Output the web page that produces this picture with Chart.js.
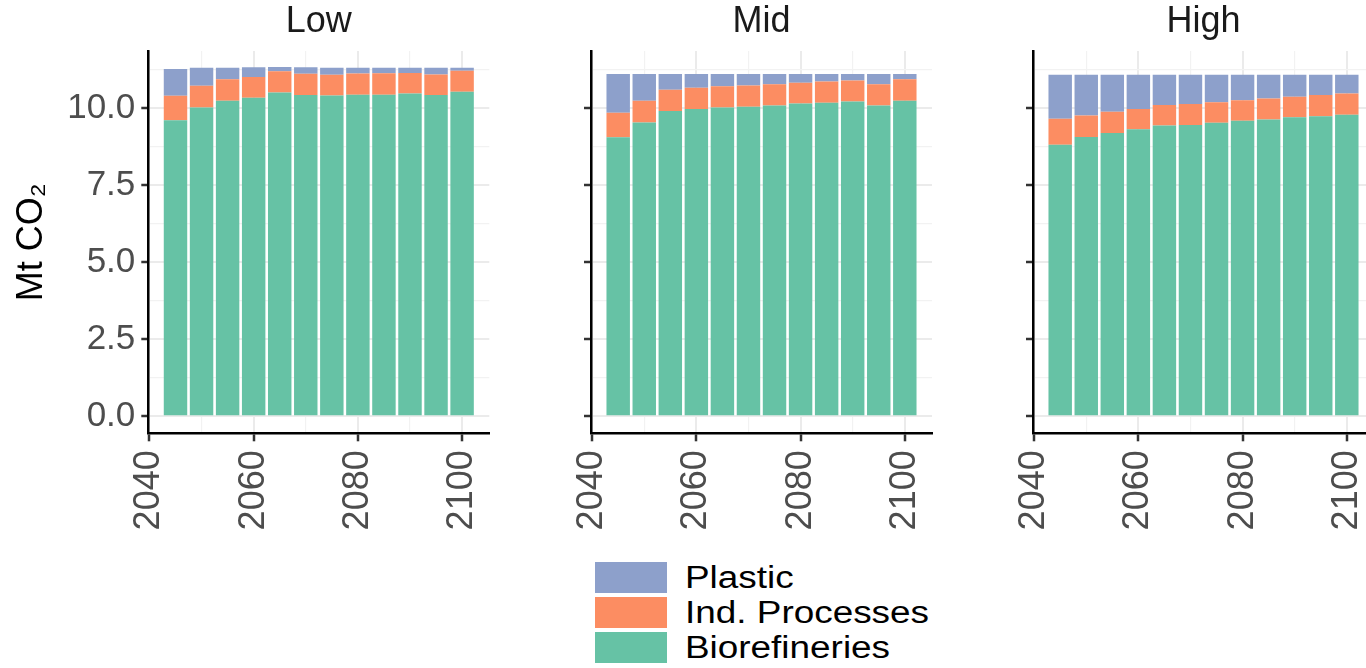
<!DOCTYPE html>
<html>
<head>
<meta charset="utf-8">
<script src="https://cdn.jsdelivr.net/npm/chart.js@4.4.0/dist/chart.umd.min.js"></script>
<style>
html,body{margin:0;padding:0;background:#fff;width:1366px;height:668px;overflow:hidden;position:relative;font-family:"Liberation Sans",Arial,sans-serif;}
.panel{position:absolute;top:0;height:545px;}
.panel canvas{display:block;}
#legend{position:absolute;left:595px;top:562px;}
.row{display:flex;align-items:center;height:31px;margin-bottom:4px;}
.sw{width:72px;height:31px;flex:none;}
.lab{margin-left:18px;font-size:31px;line-height:31px;color:#000;transform:scaleX(1.19);transform-origin:left center;white-space:nowrap;}
</style>
</head>
<body>
<div class="panel" id="p0"><canvas id="c0"></canvas></div>
<div class="panel" id="p1"><canvas id="c1"></canvas></div>
<div class="panel" id="p2"><canvas id="c2"></canvas></div>
<div id="legend"></div>
<script>
// ---- data ----
const years = [2045, 2050, 2055, 2060, 2065, 2070, 2075, 2080, 2085, 2090, 2095, 2100];
const facetNames = ["Low", "Mid", "High"];
const seriesNames = ["Biorefineries", "Ind. Processes", "Plastic"];
const seriesColors = ["#66C2A5", "#FC8D62", "#8DA0CB"];

const lowBio     = [9.60, 10.02, 10.24, 10.33, 10.50, 10.42, 10.41, 10.43, 10.43, 10.47, 10.42, 10.53];
const lowInd     = [0.80, 0.70, 0.69, 0.68, 0.69, 0.69, 0.67, 0.69, 0.70, 0.67, 0.67, 0.68];
const lowPlastic = [0.87, 0.59, 0.38, 0.31, 0.14, 0.21, 0.23, 0.19, 0.18, 0.17, 0.22, 0.10];

const midBio     = [9.05, 9.53, 9.90, 9.97, 10.02, 10.04, 10.08, 10.15, 10.17, 10.21, 10.08, 10.24];
const midInd     = [0.80, 0.71, 0.69, 0.69, 0.69, 0.69, 0.69, 0.67, 0.69, 0.68, 0.69, 0.69];
const midPlastic = [1.25, 0.86, 0.51, 0.44, 0.39, 0.37, 0.33, 0.28, 0.24, 0.21, 0.33, 0.17];

const highBio     = [8.81, 9.06, 9.19, 9.31, 9.43, 9.45, 9.52, 9.59, 9.63, 9.70, 9.73, 9.78];
const highInd     = [0.84, 0.70, 0.69, 0.66, 0.67, 0.68, 0.67, 0.66, 0.68, 0.67, 0.69, 0.69];
const highPlastic = [1.43, 1.32, 1.20, 1.11, 0.98, 0.95, 0.89, 0.83, 0.77, 0.71, 0.66, 0.61];

const xTicks = [2040, 2050, 2060, 2070, 2080, 2090, 2100];
const yTicks = [0, 1.25, 2.5, 3.75, 5, 6.25, 7.5, 8.75, 10, 11.25];
const yTitle = "Mt CO\u2082";

// ---- layout ----
const facetData = [
  [lowBio, lowInd, lowPlastic],
  [midBio, midInd, midPlastic],
  [highBio, highInd, highPlastic]
];
const panelLeft = [148.3, 591, 1033.3];
const panelW = 341;
const canvasH = 545;
const areaTop = 51;
const areaBottom = 433.3;
const FONT = '"Liberation Sans", Arial, sans-serif';

const isMajorX = v => Math.abs(v % 20) < 1e-6;
const isMajorY = v => Math.abs((v / 2.5) - Math.round(v / 2.5)) < 1e-6;

facetNames.forEach((name, fi) => {
  const axW = fi === 0 ? panelLeft[0] : 20;
  const left = panelLeft[fi] - axW;
  const width = axW + panelW + 10;
  const div = document.getElementById('p' + fi);
  div.style.left = left + 'px';
  div.style.width = width + 'px';

  const datasets = seriesNames.map((s, si) => ({
    label: s,
    data: years.map((y, i) => ({ x: y, y: facetData[fi][si][i] })),
    backgroundColor: seriesColors[si],
    borderWidth: 0,
    barPercentage: 0.9,
    categoryPercentage: 1.0
  }));

  new Chart(document.getElementById('c' + fi), {
    type: 'bar',
    data: { datasets },
    options: {
      responsive: true,
      maintainAspectRatio: false,
      devicePixelRatio: 1,
      animation: false,
      layout: { padding: { left: 0, right: 10, top: 0, bottom: 0 } },
      plugins: {
        legend: { display: false },
        tooltip: { enabled: false },
        title: {
          display: true,
          text: name,
          fullSize: false,
          color: '#1a1a1a',
          font: { family: FONT, size: 36, weight: 'normal', lineHeight: 1.2 },
          padding: { top: 0, bottom: areaTop - 43.2 }
        }
      },
      scales: {
        x: {
          type: 'linear',
          stacked: true,
          offset: false,
          min: 2039.78,
          max: 2105.22,
          afterBuildTicks: s => { s.ticks = xTicks.map(v => ({ value: v })); },
          afterFit: s => { s.height = canvasH - areaBottom; s.paddingLeft = 0; s.paddingRight = 0; },
          ticks: {
            autoSkip: false,
            minRotation: 90,
            maxRotation: 90,
            padding: 9,
            color: '#4d4d4d',
            font: { family: FONT, size: 36 },
            callback: v => isMajorX(v) ? String(v) : ''
          },
          grid: {
            offset: false,
            color: c => (c.tick && isMajorX(c.tick.value)) ? '#ebebeb' : '#f2f2f2',
            lineWidth: c => (c.tick && isMajorX(c.tick.value)) ? 2 : 1.2,
            tickColor: c => (c.tick && isMajorX(c.tick.value)) ? '#333333' : 'rgba(0,0,0,0)',
            tickWidth: 2.5,
            tickLength: 8,
            drawTicks: true
          },
          border: { display: true, color: '#000', width: 2.5 }
        },
        y: {
          type: 'linear',
          stacked: true,
          min: -0.55,
          max: 11.85,
          afterBuildTicks: s => { s.ticks = yTicks.map(v => ({ value: v })); },
          afterFit: s => { s.width = axW; s.paddingTop = 0; s.paddingBottom = 0; },
          ticks: {
            autoSkip: false,
            padding: 6,
            color: '#4d4d4d',
            font: { family: FONT, size: 35 },
            callback: v => (fi === 0 && isMajorY(v)) ? v.toFixed(1) : ''
          },
          grid: {
            color: c => (c.tick && isMajorY(c.tick.value)) ? '#ebebeb' : '#f2f2f2',
            lineWidth: c => (c.tick && isMajorY(c.tick.value)) ? 2 : 1.2,
            tickColor: c => (c.tick && isMajorY(c.tick.value)) ? '#333333' : 'rgba(0,0,0,0)',
            tickWidth: 2.5,
            tickLength: 7,
            drawTicks: true
          },
          border: { display: true, color: '#000', width: 2.5 },
          title: {
            display: fi === 0,
            text: yTitle,
            color: '#000',
            font: { family: FONT, size: 36, lineHeight: 1.2 },
            padding: { top: 10, bottom: 0 }
          }
        }
      }
    }
  });
});

// ---- legend ----
const legend = document.getElementById('legend');
[2, 1, 0].forEach(si => {
  const row = document.createElement('div');
  row.className = 'row';
  const sw = document.createElement('div');
  sw.className = 'sw';
  sw.style.background = seriesColors[si];
  const lab = document.createElement('div');
  lab.className = 'lab';
  lab.textContent = seriesNames[si];
  row.appendChild(sw);
  row.appendChild(lab);
  legend.appendChild(row);
});
</script>
</body>
</html>
